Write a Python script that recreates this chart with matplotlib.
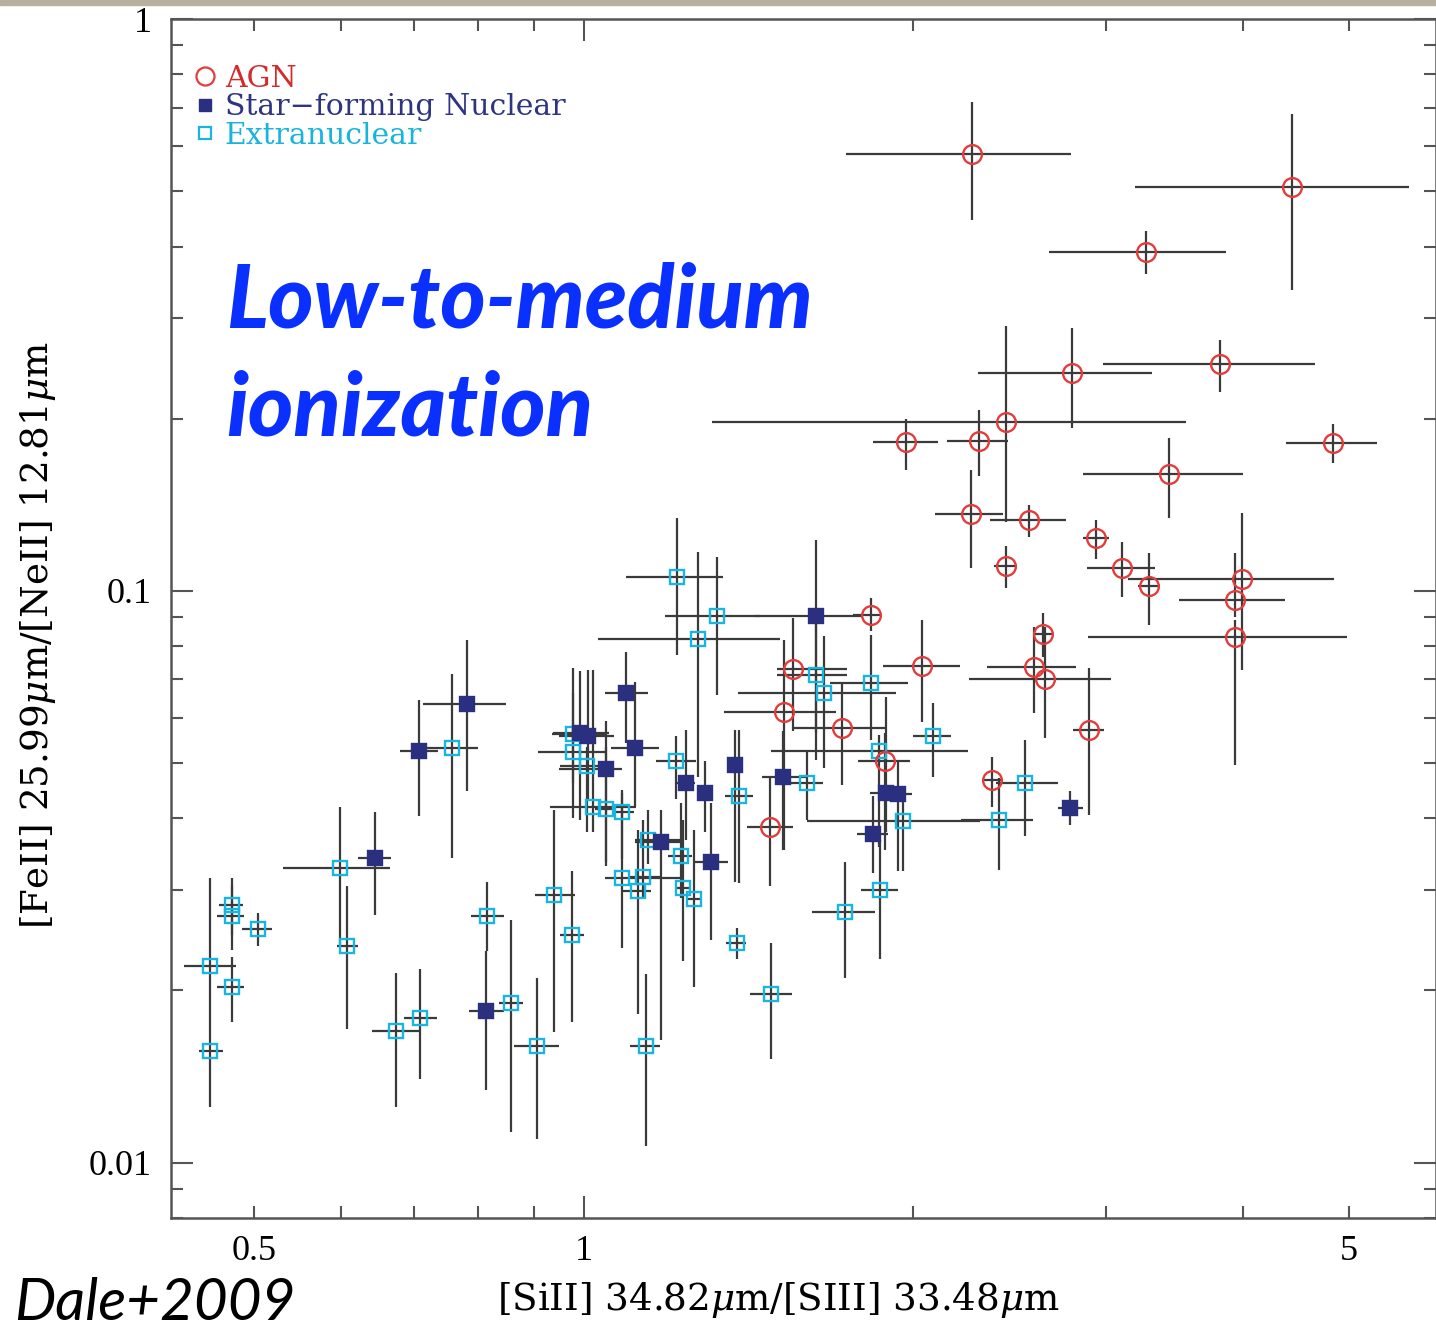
import numpy as np
import matplotlib.pyplot as plt
from matplotlib.lines import Line2D
from matplotlib.patches import Rectangle
from matplotlib.ticker import FixedLocator, FuncFormatter

plt.rcParams['mathtext.fontset'] = 'dejavuserif'

# ---- data: ratio values and error-bar bounds ----
agn_x = [2.262, 4.433, 3.26, 3.811, 2.792, 2.43, 1.970, 2.296, 4.836, 3.424, 2.258, 2.552, 2.428, 2.938, 3.102, 3.284,
         3.99, 3.934, 3.934, 2.626, 2.577, 2.639, 2.894, 2.361, 1.829, 2.037, 1.554, 1.523, 1.722, 1.883, 1.481]
agn_y = [0.581, 0.508, 0.392, 0.249, 0.240, 0.197, 0.182, 0.183, 0.181, 0.160, 0.1365, 0.1332, 0.1106, 0.1235, 0.1094,
         0.1018, 0.1049, 0.0962, 0.0831, 0.084, 0.0737, 0.070, 0.057, 0.0466, 0.0908, 0.074, 0.073, 0.0615, 0.0575,
         0.0503, 0.0387]
agn_xlo = [1.735, 3.19, 2.658, 2.979, 2.291, 1.309, 1.837, 2.147, 4.377, 2.855, 2.093, 2.35, 2.37, 2.857, 2.88, 3.206,
           3.141, 3.493, 2.887, 2.572, 2.336, 2.249, 2.80, 2.31, 1.761, 1.876, 1.50, 1.343, 1.553, 1.78, 1.409]
agn_xhi = [2.785, 5.668, 3.856, 4.653, 3.301, 3.547, 2.108, 2.44, 5.299, 3.995, 2.414, 2.756, 2.482, 3.017, 3.324, 3.358,
           4.846, 4.368, 4.98, 2.677, 2.815, 3.028, 2.985, 2.414, 1.864, 2.205, 1.738, 1.70, 1.89, 1.984, 1.553]
agn_yhi = [0.715, 0.682, 0.426, 0.275, 0.288, 0.291, 0.200, 0.207, 0.196, 0.185, 0.1628, 0.1415, 0.120, 0.133, 0.1219,
           0.1166, 0.137, 0.1166, 0.089, 0.0916, 0.0865, 0.0865, 0.0734, 0.0513, 0.097, 0.089, 0.0895, 0.0821, 0.0691,
           0.0565, 0.047]
agn_ylo = [0.446, 0.336, 0.358, 0.223, 0.193, 0.132, 0.1625, 0.1586, 0.167, 0.134, 0.1094, 0.124, 0.1013, 0.1138, 0.0977,
           0.0873, 0.0728, 0.090, 0.0496, 0.0767, 0.0612, 0.0553, 0.0406, 0.0418, 0.085, 0.0589, 0.0568, 0.0352, 0.0458,
           0.0352, 0.0304]

sf_x = [0.783, 0.707, 0.645, 0.815, 0.992, 1.01, 1.094, 1.115, 1.047, 1.24, 1.29, 1.374, 1.522, 1.631, 1.89, 1.936,
        1.837, 1.176, 1.306, 2.781]
sf_y = [0.0635, 0.0524, 0.0341, 0.0184, 0.0564, 0.0558, 0.0663, 0.0531, 0.0488, 0.0461, 0.0443, 0.0496, 0.0472, 0.0903,
        0.0443, 0.0441, 0.0376, 0.0364, 0.0335, 0.0417]
sf_xlo = [0.714, 0.679, 0.622, 0.786, 0.937, 0.95, 1.045, 1.059, 0.95, 1.217, 1.276, 1.355, 1.454, 1.433, 1.824, 1.903,
          1.775, 1.113, 1.259, 2.711]
sf_xhi = [0.85, 0.736, 0.667, 0.846, 1.055, 1.065, 1.146, 1.171, 1.085, 1.265, 1.31, 1.393, 1.597, 1.794, 1.935, 1.996,
          1.896, 1.232, 1.355, 2.855]
sf_yhi = [0.0821, 0.0645, 0.041, 0.0234, 0.0723, 0.0728, 0.0783, 0.0694, 0.0593, 0.057, 0.0503, 0.057, 0.0568, 0.1225,
          0.0652, 0.0503, 0.0437, 0.0413, 0.0426, 0.0446]
sf_ylo = [0.0446, 0.0403, 0.0271, 0.0134, 0.0398, 0.043, 0.0542, 0.0418, 0.0335, 0.0367, 0.0379, 0.0309, 0.0352, 0.0565,
          0.0378, 0.0323, 0.0321, 0.0164, 0.0245, 0.0389]

ex_x = [0.456, 0.477, 0.477, 0.477, 0.504, 0.599, 0.608, 0.758, 0.816, 0.858, 0.906, 0.94, 0.976, 0.674, 0.709, 0.978,
        0.978, 1.008, 1.02, 1.047, 1.085, 1.146, 1.226, 1.215, 1.387, 1.60, 1.629, 1.657, 1.829, 1.862, 1.955, 2.394,
        2.53, 2.085, 1.217, 1.323, 1.273, 1.083, 1.133, 1.12, 1.232, 1.26, 1.379, 1.484, 1.731, 1.864, 1.139, 0.456]
ex_y = [0.0221, 0.0282, 0.027, 0.0203, 0.0256, 0.0328, 0.0239, 0.0531, 0.027, 0.019, 0.016, 0.0294, 0.025, 0.017, 0.0179,
        0.0561, 0.0522, 0.0493, 0.0419, 0.0416, 0.041, 0.0367, 0.0344, 0.0504, 0.0438, 0.0461, 0.0711, 0.0663, 0.0691,
        0.0524, 0.0395, 0.0398, 0.0461, 0.0557, 0.1057, 0.0902, 0.0825, 0.0314, 0.0316, 0.0299, 0.0302, 0.0289, 0.0242,
        0.0197, 0.0274, 0.030, 0.016, 0.0157]
ex_xlo = [0.4315, 0.465, 0.4625, 0.463, 0.488, 0.531, 0.596, 0.715, 0.789, 0.837, 0.864, 0.902, 0.951, 0.641, 0.685,
          0.936, 0.908, 0.951, 0.931, 1.025, 1.061, 1.113, 1.193, 1.165, 1.345, 1.542, 1.502, 1.383, 1.677, 1.484, 1.60,
          2.21, 2.381, 2.0, 1.094, 1.186, 1.03, 1.045, 1.102, 1.082, 1.211, 1.241, 1.35, 1.418, 1.617, 1.793, 1.103, 0.445]
ex_xhi = [0.481, 0.489, 0.49, 0.49, 0.519, 0.665, 0.622, 0.80, 0.845, 0.881, 0.95, 0.982, 1.0, 0.711, 0.735, 1.049,
          1.045, 1.056, 1.117, 1.07, 1.111, 1.231, 1.257, 1.267, 1.428, 1.654, 1.738, 1.93, 1.977, 2.245, 2.3, 2.572,
          2.711, 2.163, 1.341, 1.448, 1.51, 1.228, 1.173, 1.153, 1.254, 1.281, 1.406, 1.55, 1.845, 1.936, 1.173, 0.469]
ex_yhi = [0.0314, 0.0314, 0.0304, 0.0229, 0.0273, 0.0419, 0.0304, 0.0716, 0.031, 0.0266, 0.021, 0.0414, 0.0324, 0.0215,
          0.0218, 0.0663, 0.0733, 0.0533, 0.0727, 0.0533, 0.0443, 0.0413, 0.0426, 0.0557, 0.057, 0.0524, 0.0896, 0.0833,
          0.0838, 0.056, 0.0448, 0.047, 0.0549, 0.0637, 0.1339, 0.1148, 0.1171, 0.0448, 0.0398, 0.0382, 0.0398, 0.0382,
          0.0257, 0.0242, 0.0336, 0.0367, 0.0214, 0.019]
ex_ylo = [0.019, 0.0235, 0.025, 0.0176, 0.0239, 0.0239, 0.0171, 0.0341, 0.0234, 0.0113, 0.011, 0.0169, 0.0176, 0.0125,
          0.014, 0.0461, 0.04, 0.0378, 0.0378, 0.033, 0.0339, 0.0333, 0.029, 0.0432, 0.0308, 0.0397, 0.0506, 0.0489,
          0.0549, 0.0356, 0.0323, 0.0325, 0.0372, 0.0472, 0.0773, 0.0658, 0.0472, 0.0237, 0.029, 0.0182, 0.0225, 0.0203,
          0.0227, 0.0152, 0.021, 0.0227, 0.0107, 0.0125]

labels = ['AGN', 'Star\u2212forming Nuclear', 'Extranuclear']
x_ticklabels = {0.5: '0.5', 1: '1', 5: '5'}
y_ticklabels = {0.01: '0.01', 0.1: '0.1', 1: '1'}

AGN_C = '#e23c3c'
SF_C = '#2b2f80'
EX_C = '#17b5e0'
ERR_C = '#3a3a3a'
AX_C = '#555555'

fig = plt.figure(figsize=(14.36, 13.28), dpi=100)
fig.patches.append(Rectangle((0, 1 - 5 / 1328), 1, 5 / 1328, transform=fig.transFigure,
                             color='#b9af9f', zorder=0))
ax = fig.add_axes([171 / 1436, 1 - 1218 / 1328, (1436 - 171) / 1436, (1218 - 19) / 1328])
ax.set_xscale('log')
ax.set_yscale('log')


def draw_group(x, y, xlo, xhi, ylo, yhi, marker, mfc, mec, ms, z):
    x, y = np.array(x), np.array(y)
    xlo, xhi, ylo, yhi = map(np.array, (xlo, xhi, ylo, yhi))
    ax.errorbar(x, y, xerr=[x - xlo, xhi - x], yerr=[y - ylo, yhi - y], fmt='none',
                ecolor=ERR_C, elinewidth=1.6, capsize=0, zorder=2)
    ax.plot(x, y, ls='none', marker=marker, mfc=mfc, mec=mec, ms=ms, mew=1.7, zorder=z)


draw_group(ex_x, ex_y, ex_xlo, ex_xhi, ex_ylo, ex_yhi, 's', 'none', EX_C, 10, 3)
draw_group(sf_x, sf_y, sf_xlo, sf_xhi, sf_ylo, sf_yhi, 's', SF_C, SF_C, 9.5, 4)
draw_group(agn_x, agn_y, agn_xlo, agn_xhi, agn_ylo, agn_yhi, 'o', 'none', AGN_C, 13.5, 5)

ax.set_xlim(0.42, 6.0)
ax.set_ylim(0.008, 1.0)

ax.xaxis.set_major_locator(FixedLocator([1]))
ax.xaxis.set_minor_locator(FixedLocator([0.5, 0.6, 0.7, 0.8, 0.9, 2, 3, 4, 5]))
xfmt = FuncFormatter(lambda v, p: x_ticklabels.get(round(v, 3), ''))
ax.xaxis.set_major_formatter(xfmt)
ax.xaxis.set_minor_formatter(xfmt)
ax.yaxis.set_major_locator(FixedLocator([0.01, 0.1, 1]))
ax.yaxis.set_minor_locator(FixedLocator([k * 10.0 ** d for d in (-3, -2, -1) for k in range(2, 10)]))
ax.yaxis.set_major_formatter(FuncFormatter(lambda v, p: y_ticklabels.get(round(v, 4), '')))
ax.yaxis.set_minor_formatter(FuncFormatter(lambda v, p: ''))

ax.tick_params(which='both', direction='in', top=True, right=True, width=1.5, color=AX_C)
ax.tick_params(which='major', length=16)
ax.tick_params(which='minor', length=8.5)
ax.tick_params(axis='x', which='both', pad=12)
ax.tick_params(axis='y', which='both', pad=14)
for lab in ax.get_xticklabels(which='both') + ax.get_yticklabels():
    lab.set_fontfamily('Liberation Serif')
    lab.set_fontsize(26)
for s in ax.spines.values():
    s.set_color(AX_C)
    s.set_linewidth(1.8)

label_font = dict(family='DejaVu Serif', size=26.8)
fig.text(778 / 1436, 1 - 1300 / 1328, r'[SiII] 34.82$\mu$m/[SIII] 33.48$\mu$m',
         ha='center', va='center', **label_font)
fig.text(38 / 1436, 1 - 635 / 1328, r'[FeII] 25.99$\mu$m/[NeII] 12.81$\mu$m',
         ha='center', va='center', rotation=90, **label_font)

handles = [Line2D([], [], ls='none', marker='o', mfc='none', mec=AGN_C, ms=13, mew=1.6),
           Line2D([], [], ls='none', marker='s', mfc=SF_C, mec=SF_C, ms=8.5),
           Line2D([], [], ls='none', marker='s', mfc='none', mec=EX_C, ms=9, mew=1.6)]
leg = ax.legend(handles, labels, loc='upper left', bbox_to_anchor=(0.016, 0.962), frameon=False,
                handlelength=0.9, handletextpad=0.22, labelspacing=0.02, borderpad=0, borderaxespad=0,
                prop={'family': 'DejaVu Serif', 'size': 21.5})
for t, c in zip(leg.get_texts(), ['#d42a2a', '#2e3480', '#18b4dc']):
    t.set_color(c)

blue_font = dict(family='Lato', weight='black', style='italic', size=62.5, color='#0a30ff')
fig.text(226 / 1436, 1 - 328 / 1328, 'Low-to-medium', ha='left', va='baseline', **blue_font)
fig.text(226 / 1436, 1 - 435 / 1328, 'ionization', ha='left', va='baseline', **blue_font)

fig.text(14 / 1436, 1 - 1320 / 1328, 'Dale+2009', ha='left', va='baseline',
         family='Lato', style='italic', size=42, color='black')

fig.savefig('out.png', dpi=100)
